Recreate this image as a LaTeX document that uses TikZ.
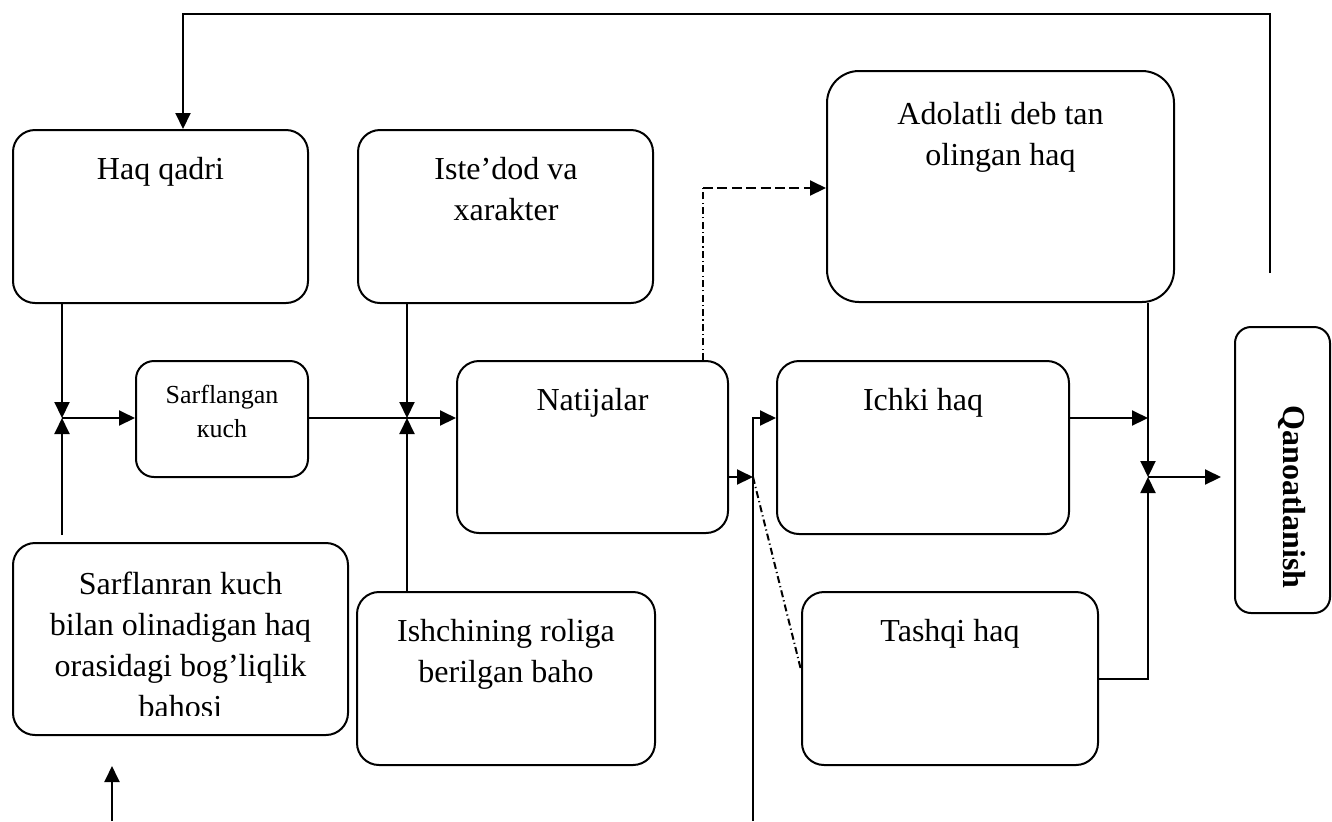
\documentclass[tikz,border=0pt]{standalone}
\usepackage{fontspec}
\setmainfont{Liberation Serif}
\usetikzlibrary{arrows.meta,calc}
\newcommand\boxlines[1]{\begin{tabular}[t]{@{}c@{}}#1\end{tabular}}
\begin{document}
\begin{tikzpicture}[x=0.5pt,y=-0.5pt,
  line width=1pt,
  box/.style={draw, rounded corners=11pt, inner sep=0pt, line width=1pt},
  lbl/.style={anchor=base, inner sep=0pt, font=\fontsize{16}{20.5}\selectfont},
  arr/.style={-{Triangle[length=8pt,width=7.5pt]}},
  dashdot/.style={dash pattern=on 3.5pt off 1.6pt on 0.6pt off 1.6pt},
  dash line/.style={dash pattern=on 5pt off 2.2pt},
]
\useasboundingbox (0,0) rectangle (1332,821);

% boxes
\node[box, minimum width=147.5pt, minimum height=86.5pt] (hq) at (160.5,216.5) {};
\node[box, minimum width=147.5pt, minimum height=86.5pt] (iv) at (505.5,216.5) {};
\node[box, rounded corners=16pt, minimum width=173.5pt, minimum height=115.5pt] (ad) at (1000.5,186.5) {};
\node[box, rounded corners=9pt, minimum width=86pt, minimum height=58pt] (sk) at (222,419) {};
\node[box, minimum width=135.5pt, minimum height=86pt] (nt) at (592.5,447) {};
\node[box, minimum width=146pt, minimum height=86.5pt] (ih) at (923,447.5) {};
\node[box, minimum width=167.5pt, minimum height=96pt] (sb) at (180.5,639) {};
\node[box, minimum width=149pt, minimum height=86.5pt] (ir) at (506,678.5) {};
\node[box, minimum width=148pt, minimum height=86.5pt] (th) at (950,678.5) {};
\node[box, rounded corners=8pt, minimum width=47.5pt, minimum height=143pt] (qn) at (1282.5,470) {};

% labels
\node[lbl] (hqt) at (160.5,179) {Haq qadri};
\node[lbl] (ivt) at (506,179) {\boxlines{Iste’dod va\\ xarakter}};
\node[lbl] (adt) at (1000.5,124) {\boxlines{Adolatli deb tan\\ olingan haq}};
\node[lbl, font=\fontsize{13}{17}\selectfont] (skt) at (222,403) {\boxlines{Sarflangan\\ кuch}};
\node[lbl] (ntt) at (592.5,410) {Natijalar};
\node[lbl] (iht) at (923,410) {Ichki haq};
\begin{scope}
  \clip (13,543) rectangle (348,715);
  \node[lbl] (sbt) at (180.5,594) {\boxlines{Sarflanran kuch\\ bilan olinadigan haq\\ orasidagi bog’liqlik\\ bahosi}};
\end{scope}
\node[lbl] (irt) at (506,641) {\boxlines{Ishchining roliga\\ berilgan baho}};
\node[lbl] (tht) at (950,641) {Tashqi haq};
\node[inner sep=0pt, rotate=-90, font=\fontsize{16}{20}\bfseries\selectfont] (qnt) at (1292,497) {Qanoatlanish};

% junction points and free ends
\coordinate (jl) at (62,418);
\coordinate (jm) at (407,418);
\coordinate (jr) at (1148,477);
\coordinate (bus) at (753,477);
\coordinate (bust) at (753,418);
\coordinate (busb) at (753,821);
\coordinate (lst) at (62,535);
\coordinate (bl0) at (112,821);
\coordinate (bl1) at (112,766);
\coordinate (qin) at (1221,477);
\coordinate (fbr) at (1270,273);
\coordinate (fbc) at (183,14);
\coordinate (dc) at (703,188);

% left input junction
\draw[arr] (hq.south -| jl) -- (jl);
\draw[arr] (lst) -- (jl);
\draw[arr] (jl) -- (jl -| sk.west);
\draw[arr] (bl0) -- (bl1);

% middle junction
\draw (sk.east |- jm) -- (jm);
\draw[arr] (iv.south -| jm) -- (jm);
\draw[arr] (ir.north -| jm) -- (jm);
\draw[arr] (jm) -- (jm -| nt.west);

% results bus
\draw[arr] (bus -| nt.east) -- (bus);
\draw[arr] (busb) -- (bust) -- (bust -| ih.west);
\draw[dashdot] (bus) -- ($(th.west)+(0,-8.5)$);
\draw[dashdot] (nt.north -| dc) -- (dc);
\draw[dash line, arr] (dc) -- (dc -| ad.west);

% right junction
\draw[arr] (bust -| ih.east) -- (bust -| jr);
\draw[arr] (ad.south -| jr) -- (jr);
\draw[arr] (th.east) -| (jr);
\draw[arr] (jr) -- (qin);

% feedback loop
\draw[arr] (fbr) |- (fbc) -- (fbc |- hq.north);
\end{tikzpicture}
\end{document}
